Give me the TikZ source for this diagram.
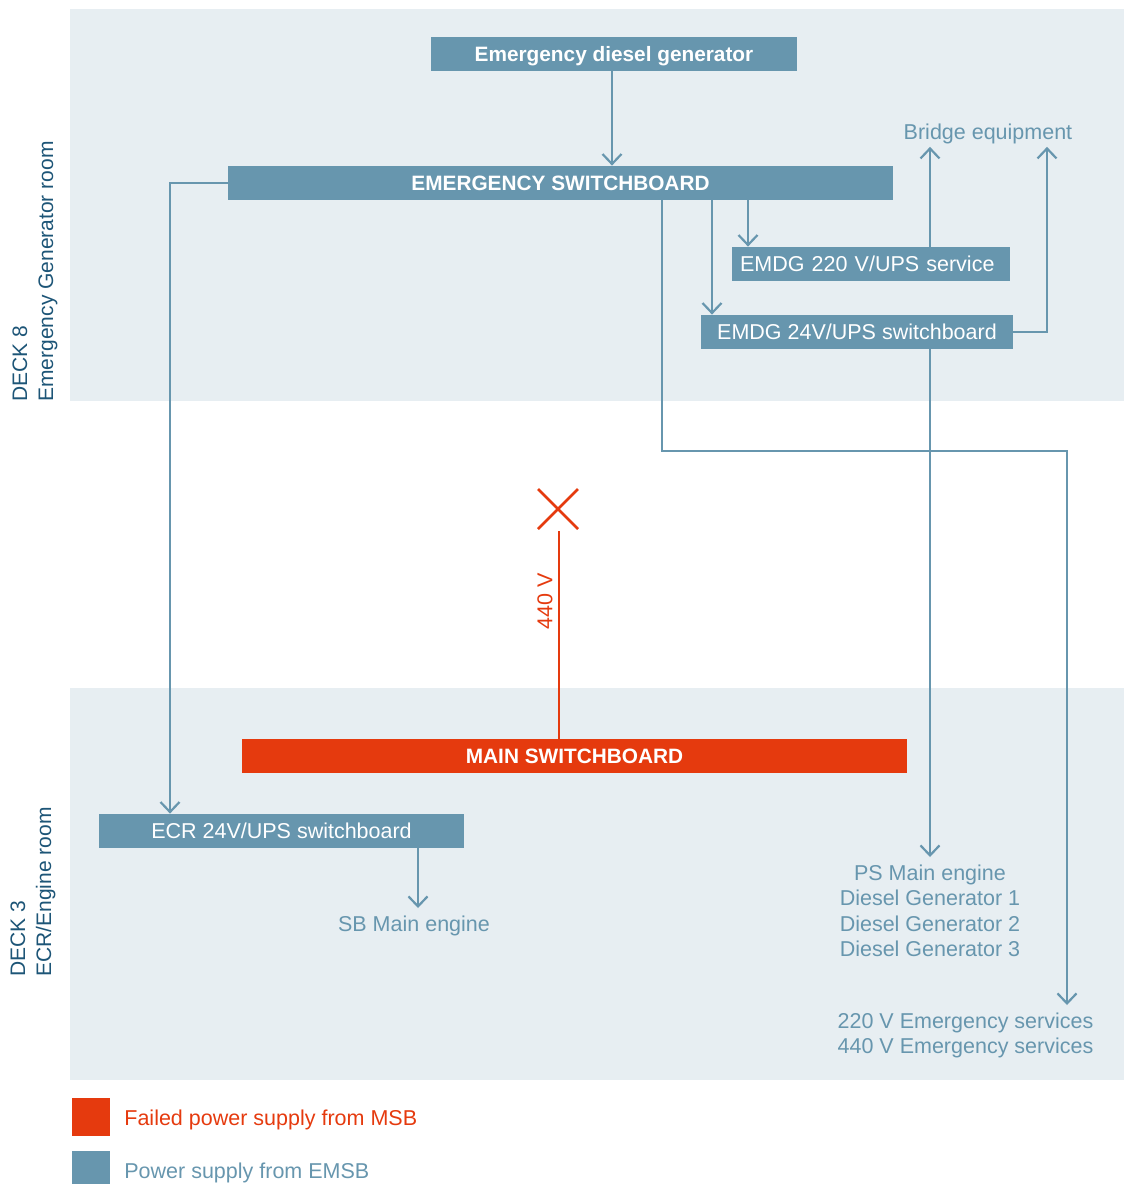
\documentclass[tikz,border=0pt]{standalone}
\usepackage{fontspec}
\setmainfont{Liberation Sans}
\usetikzlibrary{arrows.meta,calc}
\definecolor{boxblue}{HTML}{6796AE}
\definecolor{panelbg}{HTML}{E7EEF2}
\definecolor{failred}{HTML}{E53A0E}
\definecolor{deckblue}{HTML}{1D5577}
\begin{document}
\begin{tikzpicture}[x=0.5pt,y=-0.5pt,
  fnt/.style={font=\fontsize{10.75}{13}\selectfont},
  bfnt/.style={font=\fontsize{10.4}{13}\selectfont\bfseries},
  sbox/.style={fill=boxblue,text=white,inner sep=0pt,minimum height=17pt,text height=7.5pt,text depth=0pt,fnt},
  lbl/.style={text=boxblue,inner xsep=0pt,inner ysep=3.75pt,align=center,font=\fontsize{10.75}{12.7}\selectfont},
  arr/.style={draw=boxblue,line width=1.1pt,-{Straight Barb[length=5pt,width=9.5pt]}},
  deck/.style={rotate=90,anchor=north west,inner sep=0pt,align=left,text=deckblue,font=\fontsize{10.5}{13}\selectfont},
  legsq/.style={minimum size=19pt,inner sep=0pt}]
\useasboundingbox (0,0) rectangle (1124,1184);
% panels
\fill[panelbg] (70,9) rectangle (1124,401);
\fill[panelbg] (70,688) rectangle (1124,1080);
% deck labels
\node[deck] (deck8) at (12,402) {DECK 8\\Emergency Generator room};
\node[deck] (deck3) at (10,977) {DECK 3\\ECR/Engine room};
% boxes
\node[sbox,bfnt,minimum width=183pt] (edg) at (614,54) {Emergency diesel generator};
\node[sbox,bfnt,minimum width=332.5pt] (esb) at (560.5,183) {EMERGENCY SWITCHBOARD};
\node[sbox,text width=131pt,inner xsep=4pt,align=left] (ups220) at (871,264) {EMDG 220 V/UPS service};
\node[sbox,minimum width=156pt] (ups24) at (857,332) {EMDG 24V/UPS switchboard};
\node[sbox,bfnt,fill=failred,minimum width=332.5pt] (msb) at (574.5,756) {MAIN SWITCHBOARD};
\node[sbox,minimum width=182.5pt] (ecr) at (281.5,831) {ECR 24V/UPS switchboard};
% text targets
\node[lbl,anchor=base,inner ysep=1.5pt] (bridge) at (988,139) {Bridge equipment};
\node[lbl,anchor=north] (ps) at (930,857) {PS Main engine\\Diesel Generator 1\\Diesel Generator 2\\Diesel Generator 3};
\node[lbl,anchor=north] (es) at (965.5,1005) {220 V Emergency services\\440 V Emergency services};
\node[lbl,anchor=north] (sb) at (414,908) {SB Main engine};
% helper coordinates
\coordinate (xa) at (748,0);
\coordinate (xb) at (712,0);
\coordinate (xc) at (662,0);
\coordinate (xd) at (930,0);
\coordinate (xe) at (1047,0);
\coordinate (xg) at (170,0);
\coordinate (xh) at (418,0);
\coordinate (xr) at (559,0);
\coordinate (bend) at (1067,451);
\coordinate (rtop) at (559,531);
% connectors
\draw[arr] ([xshift=-1pt]edg.south) -- ([xshift=-1pt]edg.south |- esb.north);
\draw[arr] (esb.west) -| (ecr.north -| xg);
\draw[arr] (esb.south -| xa) -- (ups220.north -| xa);
\draw[arr] (esb.south -| xb) -- (ups24.north -| xb);
\draw[arr] (esb.south -| xc) |- (bend) -- (es.north -| bend);
\draw[arr] (ups220.north -| xd) -- (bridge.south -| xd);
\draw[arr] (ups24.east) -| (bridge.south -| xe);
\draw[arr] (ups24.south -| xd) -- (ps.north);
\draw[arr] (ecr.south -| xh) -- (sb.north -| xh);
% failed supply
\draw[failred,line width=1.1pt] (msb.north -| xr) -- (rtop);
\draw[failred,line width=1.3pt] (538,489) -- (578,529) (538,529) -- (578,489);
\node[rotate=90,text=failred,fnt,inner sep=0pt] (v440) at (545,601) {440 V};
% legend
\node[legsq,fill=failred] (legred) at (91,1117) {};
\node[anchor=base west,inner sep=0pt,text=failred,fnt] (legredtxt) at (124,1125) {Failed power supply from MSB};
\node[legsq,fill=boxblue] (legblue) at (91,1170) {};
\node[anchor=base west,inner sep=0pt,text=boxblue,fnt] (legbluetxt) at (124,1178) {Power supply from EMSB};
\end{tikzpicture}
\end{document}
